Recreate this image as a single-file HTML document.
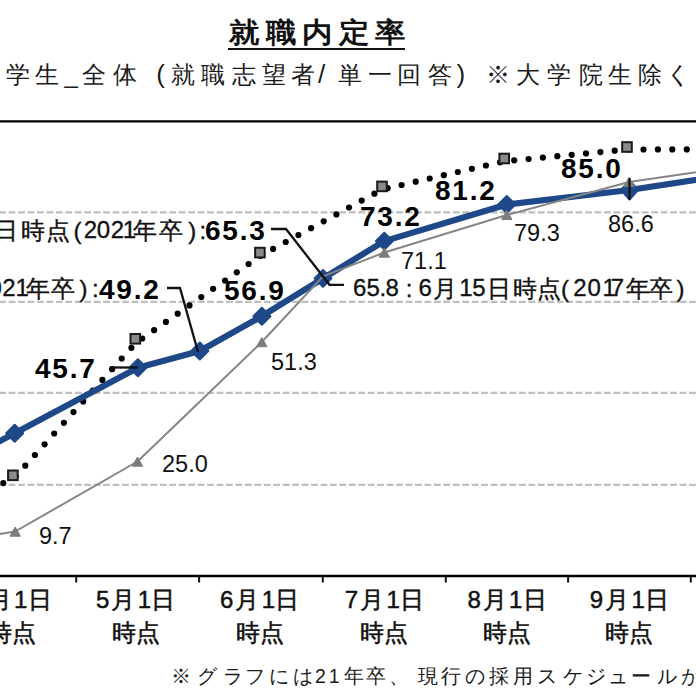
<!DOCTYPE html>
<html lang="ja"><head><meta charset="utf-8">
<style>
html,body{margin:0;padding:0;background:#fff;}
body{width:696px;height:696px;position:relative;overflow:hidden;font-family:"Liberation Sans",sans-serif;color:#111;}
.t{position:absolute;white-space:nowrap;line-height:1;}
.g{position:absolute;white-space:pre;line-height:1;}
#title{left:229px;top:18.5px;font-size:30px;font-weight:bold;letter-spacing:6.5px;transform:scaleY(0.92);transform-origin:0 0;}
#uline{position:absolute;left:228px;top:47.5px;width:177px;height:2.5px;background:#111;}
svg{position:absolute;left:0;top:0;}
.lab{font-size:23.5px;color:#111;}
.bl{font-size:28px;font-weight:bold;color:#000;letter-spacing:1.8px;}
</style></head><body>
<div class="t" id="title">就職内定率</div>
<div id="uline"></div>

<svg width="696" height="696" viewBox="0 0 696 696">
  <line x1="0" y1="121.4" x2="696" y2="121.4" stroke="#000" stroke-width="2.2"/>
  <g stroke="#bfbfbf" stroke-width="2.3" stroke-dasharray="6.8 2.65" stroke-dashoffset="0.8">
    <line x1="0" y1="212.4" x2="696" y2="212.4"/>
    <line x1="0" y1="301.9" x2="696" y2="301.9"/>
    <line x1="0" y1="392.9" x2="696" y2="392.9"/>
    <line x1="0" y1="484.9" x2="696" y2="484.9"/>
  </g>
  <line x1="0" y1="576" x2="696" y2="576" stroke="#000" stroke-width="2.6"/>
  <g stroke="#111" stroke-width="2"><line x1="76.2" y1="575" x2="76.2" y2="582.5"/><line x1="199.1" y1="575" x2="199.1" y2="582.5"/><line x1="322.8" y1="575" x2="322.8" y2="582.5"/><line x1="445.8" y1="575" x2="445.8" y2="582.5"/><line x1="568.1" y1="575" x2="568.1" y2="582.5"/><line x1="690.8" y1="575" x2="690.8" y2="582.5"/></g>
  <!-- dotted series -->
  <g fill="#000"><circle cx="3.3" cy="483.1" r="3.1"/><circle cx="15.7" cy="476.4" r="3.1"/><circle cx="25.3" cy="465.7" r="3.1"/><circle cx="34.9" cy="455.0" r="3.1"/><circle cx="44.6" cy="444.3" r="3.1"/><circle cx="54.2" cy="433.5" r="3.1"/><circle cx="63.9" cy="422.8" r="3.1"/><circle cx="73.5" cy="412.1" r="3.1"/><circle cx="83.2" cy="401.4" r="3.1"/><circle cx="92.8" cy="390.7" r="3.1"/><circle cx="102.4" cy="379.9" r="3.1"/><circle cx="112.1" cy="369.2" r="3.1"/><circle cx="121.7" cy="358.5" r="3.1"/><circle cx="131.4" cy="347.8" r="3.1"/><circle cx="142.3" cy="338.5" r="3.1"/><circle cx="154.1" cy="330.2" r="3.1"/><circle cx="165.9" cy="321.9" r="3.1"/><circle cx="177.7" cy="313.7" r="3.1"/><circle cx="189.5" cy="305.4" r="3.1"/><circle cx="201.3" cy="297.1" r="3.1"/><circle cx="213.1" cy="288.8" r="3.1"/><circle cx="225.0" cy="280.6" r="3.1"/><circle cx="236.8" cy="272.3" r="3.1"/><circle cx="248.6" cy="264.0" r="3.1"/><circle cx="260.4" cy="255.8" r="3.1"/><circle cx="273.1" cy="248.9" r="3.1"/><circle cx="285.7" cy="242.0" r="3.1"/><circle cx="298.4" cy="235.1" r="3.1"/><circle cx="311.1" cy="228.2" r="3.1"/><circle cx="323.7" cy="221.3" r="3.1"/><circle cx="336.4" cy="214.4" r="3.1"/><circle cx="349.0" cy="207.5" r="3.1"/><circle cx="361.7" cy="200.6" r="3.1"/><circle cx="374.4" cy="193.7" r="3.1"/><circle cx="387.6" cy="188.2" r="3.1"/><circle cx="401.6" cy="185.0" r="3.1"/><circle cx="415.7" cy="181.7" r="3.1"/><circle cx="429.7" cy="178.5" r="3.1"/><circle cx="443.8" cy="175.2" r="3.1"/><circle cx="457.8" cy="172.0" r="3.1"/><circle cx="471.9" cy="168.8" r="3.1"/><circle cx="485.9" cy="165.5" r="3.1"/><circle cx="500.0" cy="162.3" r="3.1"/><circle cx="514.2" cy="160.3" r="3.1"/><circle cx="528.6" cy="159.0" r="3.1"/><circle cx="542.9" cy="157.6" r="3.1"/><circle cx="557.3" cy="156.2" r="3.1"/><circle cx="571.7" cy="154.8" r="3.1"/><circle cx="586.0" cy="153.4" r="3.1"/><circle cx="600.4" cy="152.1" r="3.1"/><circle cx="614.7" cy="150.7" r="3.1"/><circle cx="629.1" cy="149.5" r="3.1"/><circle cx="643.5" cy="149.5" r="3.1"/><circle cx="657.9" cy="149.4" r="3.1"/><circle cx="672.3" cy="149.4" r="3.1"/><circle cx="686.8" cy="149.4" r="3.1"/></g>
  <g fill="#8a8a8a" stroke="#1a1a1a" stroke-width="2">
    <rect x="8.1" y="470.5" width="9.6" height="9.6"/>
    <rect x="130.5" y="334" width="9.6" height="9.6"/>
    <rect x="255.1" y="247.8" width="9.6" height="9.6"/>
    <rect x="377.2" y="181.6" width="9.6" height="9.6"/>
    <rect x="499.4" y="153.7" width="9.6" height="9.6"/>
    <rect x="622.2" y="142.2" width="9.6" height="9.6"/>
  </g>
  <!-- blue 2021 series -->
  <polyline fill="none" stroke="#1e4888" stroke-width="6.2" stroke-linejoin="round" points="-109,497.8 14.7,433.3 137.9,367.8 199.8,351 261.9,316.2 323,278.4 384.3,241.1 506.8,204.5 629.5,190 760,170"/>
  <g fill="#1e4888" stroke="#1e4888" stroke-width="2" stroke-linejoin="round">
    <path d="M14.7,424.8 L23.2,433.3 L14.7,441.8 L6.2,433.3 Z"/>
    <path d="M137.9,359.3 L146.4,367.8 L137.9,376.3 L129.4,367.8 Z"/>
    <path d="M199.8,342.5 L208.3,351 L199.8,359.5 L191.3,351 Z"/>
    <path d="M261.9,307.7 L270.4,316.2 L261.9,324.7 L253.4,316.2 Z"/>
    <path d="M323,269.9 L331.5,278.4 L323,286.9 L314.5,278.4 Z"/>
    <path d="M384.3,232.6 L392.8,241.1 L384.3,249.6 L375.8,241.1 Z"/>
    <path d="M506.8,196 L515.3,204.5 L506.8,213 L498.3,204.5 Z"/>
    <path d="M629.5,180.5 L638,190 L629.5,199.5 L621,190 Z"/>
  </g>
  <!-- gray 2017 series -->
  <polyline fill="none" stroke="#858585" stroke-width="2" stroke-linejoin="round" points="-109,552.6 15.2,531.5 137.5,461.5 261.8,342 323,276.4 384.3,252.5 506.8,215 629,182 760,163"/>
  <g fill="#7d7d7d" stroke="#7d7d7d" stroke-width="1" stroke-linejoin="round">
    <path d="M15.2,527 L20.4,536.2 L10,536.2 Z"/>
    <path d="M137.5,457 L142.7,466.2 L132.3,466.2 Z"/>
    <path d="M261.8,337.5 L267,346.7 L256.6,346.7 Z"/>
    <path d="M384.3,248 L389.5,257.2 L379.1,257.2 Z"/>
    <path d="M506.8,210.3 L512,219.5 L501.6,219.5 Z"/>
    <path d="M629,177.5 L634.2,186.7 L623.8,186.7 Z"/>
  </g>
  <!-- leader lines -->
  <g fill="none" stroke="#111" stroke-width="2.3">
    <polyline points="271,229 286,229 329.5,284.8 344,284.8"/>
    <polyline points="167,288 180,288 198,352"/>
    <line x1="110" y1="367.5" x2="137.5" y2="367.5"/>
    <line x1="629.5" y1="178" x2="629.5" y2="200"/>
  </g>
</svg>

<!-- gray labels -->
<div class="t lab" style="left:39px;top:525px">9.7</div>
<div class="t lab" style="left:162px;top:453px">25.0</div>
<div class="t lab" style="left:271px;top:350.5px">51.3</div>
<div class="t lab" style="left:401px;top:250px">71.1</div>
<div class="t lab" style="left:514px;top:222px">79.3</div>
<div class="t lab" style="left:608px;top:213px">86.6</div>

<!-- blue labels -->
<div class="t bl" style="left:35px;top:355px">45.7</div>
<div class="t bl" style="left:224px;top:276.5px">56.9</div>
<div class="t bl" style="left:360px;top:203px">73.2</div>
<div class="t bl" style="left:435px;top:177px">81.2</div>
<div class="t bl" style="left:561px;top:155px">85.0</div>
<div class="t bl" style="left:205px;top:217px">65.3</div>
<div class="t bl" style="left:99px;top:276px">49.2</div>

<span class="g" style="left:-25.5px;top:63.00px;font-size:24px;color:#1a1a1a">大</span>
<span class="g" style="left:5.5px;top:63.00px;font-size:24px;color:#1a1a1a">学</span>
<span class="g" style="left:34.7px;top:63.00px;font-size:24px;color:#1a1a1a">生</span>
<span class="g" style="left:64.4px;top:63.00px;font-size:24px;color:#1a1a1a">_</span>
<span class="g" style="left:81.8px;top:63.00px;font-size:24px;color:#1a1a1a">全</span>
<span class="g" style="left:113px;top:63.00px;font-size:24px;color:#1a1a1a">体</span>
<span class="g" style="left:156.2px;top:61.31px;font-size:26px;color:#1a1a1a">(</span>
<span class="g" style="left:170.8px;top:63.00px;font-size:24px;color:#1a1a1a">就</span>
<span class="g" style="left:200.5px;top:63.00px;font-size:24px;color:#1a1a1a">職</span>
<span class="g" style="left:231.9px;top:63.00px;font-size:24px;color:#1a1a1a">志</span>
<span class="g" style="left:262px;top:63.00px;font-size:24px;color:#1a1a1a">望</span>
<span class="g" style="left:291px;top:63.00px;font-size:24px;color:#1a1a1a">者</span>
<span class="g" style="left:317.9px;top:61.31px;font-size:26px;color:#1a1a1a">/</span>
<span class="g" style="left:337.7px;top:63.00px;font-size:24px;color:#1a1a1a">単</span>
<span class="g" style="left:368px;top:63.00px;font-size:24px;color:#1a1a1a">一</span>
<span class="g" style="left:396.9px;top:63.00px;font-size:24px;color:#1a1a1a">回</span>
<span class="g" style="left:427.6px;top:63.00px;font-size:24px;color:#1a1a1a">答</span>
<span class="g" style="left:456.5px;top:61.31px;font-size:26px;color:#1a1a1a">)</span>
<span class="g" style="left:485.8px;top:63.00px;font-size:24px;color:#1a1a1a">※</span>
<span class="g" style="left:515.8px;top:63.00px;font-size:24px;color:#1a1a1a">大</span>
<span class="g" style="left:547px;top:63.00px;font-size:24px;color:#1a1a1a">学</span>
<span class="g" style="left:578.5px;top:63.00px;font-size:24px;color:#1a1a1a">院</span>
<span class="g" style="left:607.8px;top:63.00px;font-size:24px;color:#1a1a1a">生</span>
<span class="g" style="left:638.1px;top:63.00px;font-size:24px;color:#1a1a1a">除</span>
<span class="g" style="left:666.3px;top:63.00px;font-size:24px;color:#1a1a1a">く</span>
<span class="g" style="left:-6px;top:218.50px;font-size:24px;-webkit-text-stroke:0.35px #111">日</span>
<span class="g" style="left:20.6px;top:218.50px;font-size:24px;-webkit-text-stroke:0.35px #111">時</span>
<span class="g" style="left:46.1px;top:218.50px;font-size:24px;-webkit-text-stroke:0.35px #111">点</span>
<span class="g" style="left:73.4px;top:218.50px;font-size:24px;-webkit-text-stroke:0.35px #111">(</span>
<span class="g" style="left:83.7px;top:217.50px;font-size:24px;-webkit-text-stroke:0.35px #111">2</span>
<span class="g" style="left:96.7px;top:217.50px;font-size:24px;-webkit-text-stroke:0.35px #111">0</span>
<span class="g" style="left:110.8px;top:217.50px;font-size:24px;-webkit-text-stroke:0.35px #111">2</span>
<span class="g" style="left:122.8px;top:217.50px;font-size:24px;-webkit-text-stroke:0.35px #111">1</span>
<span class="g" style="left:133.2px;top:218.50px;font-size:24px;-webkit-text-stroke:0.35px #111">年</span>
<span class="g" style="left:159.3px;top:218.50px;font-size:24px;-webkit-text-stroke:0.35px #111">卒</span>
<span class="g" style="left:188.3px;top:218.50px;font-size:24px;-webkit-text-stroke:0.35px #111">)</span>
<span class="g" style="left:199.4px;top:218.50px;font-size:24px;-webkit-text-stroke:0.35px #111">:</span>
<span class="g" style="left:-11.5px;top:275.50px;font-size:24px;-webkit-text-stroke:0.35px #111">0</span>
<span class="g" style="left:2.2px;top:275.50px;font-size:24px;-webkit-text-stroke:0.35px #111">2</span>
<span class="g" style="left:15.4px;top:275.50px;font-size:24px;-webkit-text-stroke:0.35px #111">1</span>
<span class="g" style="left:25.9px;top:276.50px;font-size:24px;-webkit-text-stroke:0.35px #111">年</span>
<span class="g" style="left:51.2px;top:276.50px;font-size:24px;-webkit-text-stroke:0.35px #111">卒</span>
<span class="g" style="left:79.6px;top:276.50px;font-size:24px;-webkit-text-stroke:0.35px #111">)</span>
<span class="g" style="left:92px;top:276.50px;font-size:24px;-webkit-text-stroke:0.35px #111">:</span>
<span class="g" style="left:353px;top:275.50px;font-size:24px;-webkit-text-stroke:0.35px #111">6</span>
<span class="g" style="left:366.4px;top:275.50px;font-size:24px;-webkit-text-stroke:0.35px #111">5</span>
<span class="g" style="left:379.6px;top:275.50px;font-size:24px;-webkit-text-stroke:0.35px #111">.</span>
<span class="g" style="left:385.4px;top:275.50px;font-size:24px;-webkit-text-stroke:0.35px #111">8</span>
<span class="g" style="left:405.7px;top:276.50px;font-size:24px;-webkit-text-stroke:0.35px #111">:</span>
<span class="g" style="left:418.5px;top:275.50px;font-size:24px;-webkit-text-stroke:0.35px #111">6</span>
<span class="g" style="left:433.3px;top:276.50px;font-size:24px;-webkit-text-stroke:0.35px #111">月</span>
<span class="g" style="left:459.3px;top:275.50px;font-size:24px;-webkit-text-stroke:0.35px #111">1</span>
<span class="g" style="left:472.2px;top:275.50px;font-size:24px;-webkit-text-stroke:0.35px #111">5</span>
<span class="g" style="left:486.6px;top:276.50px;font-size:24px;-webkit-text-stroke:0.35px #111">日</span>
<span class="g" style="left:513.3px;top:276.50px;font-size:24px;-webkit-text-stroke:0.35px #111">時</span>
<span class="g" style="left:536.8px;top:276.50px;font-size:24px;-webkit-text-stroke:0.35px #111">点</span>
<span class="g" style="left:561.1px;top:276.50px;font-size:24px;-webkit-text-stroke:0.35px #111">(</span>
<span class="g" style="left:573.2px;top:275.50px;font-size:24px;-webkit-text-stroke:0.35px #111">2</span>
<span class="g" style="left:587.4px;top:275.50px;font-size:24px;-webkit-text-stroke:0.35px #111">0</span>
<span class="g" style="left:602.6px;top:275.50px;font-size:24px;-webkit-text-stroke:0.35px #111">1</span>
<span class="g" style="left:610.7px;top:275.50px;font-size:24px;-webkit-text-stroke:0.35px #111">7</span>
<span class="g" style="left:625.9px;top:276.50px;font-size:24px;-webkit-text-stroke:0.35px #111">年</span>
<span class="g" style="left:649.2px;top:276.50px;font-size:24px;-webkit-text-stroke:0.35px #111">卒</span>
<span class="g" style="left:676.6px;top:276.50px;font-size:24px;-webkit-text-stroke:0.35px #111">)</span>
<span class="g" style="left:170.7px;top:667.00px;font-size:19.5px;color:#1a1a1a">※</span>
<span class="g" style="left:196.5px;top:667.00px;font-size:19.5px;color:#1a1a1a">グ</span>
<span class="g" style="left:223.3px;top:667.00px;font-size:19.5px;color:#1a1a1a">ラ</span>
<span class="g" style="left:244.9px;top:667.00px;font-size:19.5px;color:#1a1a1a">フ</span>
<span class="g" style="left:269px;top:667.00px;font-size:19.5px;color:#1a1a1a">に</span>
<span class="g" style="left:292.6px;top:667.00px;font-size:19.5px;color:#1a1a1a">は</span>
<span class="g" style="left:315px;top:667.00px;font-size:19.5px;color:#1a1a1a">2</span>
<span class="g" style="left:328.7px;top:667.00px;font-size:19.5px;color:#1a1a1a">1</span>
<span class="g" style="left:343.5px;top:667.00px;font-size:19.5px;color:#1a1a1a">年</span>
<span class="g" style="left:365.9px;top:667.00px;font-size:19.5px;color:#1a1a1a">卒</span>
<span class="g" style="left:388.9px;top:667.00px;font-size:19.5px;color:#1a1a1a">、</span>
<span class="g" style="left:417.9px;top:667.00px;font-size:19.5px;color:#1a1a1a">現</span>
<span class="g" style="left:440.6px;top:667.00px;font-size:19.5px;color:#1a1a1a">行</span>
<span class="g" style="left:465.4px;top:667.00px;font-size:19.5px;color:#1a1a1a">の</span>
<span class="g" style="left:489.1px;top:667.00px;font-size:19.5px;color:#1a1a1a">採</span>
<span class="g" style="left:512.8px;top:667.00px;font-size:19.5px;color:#1a1a1a">用</span>
<span class="g" style="left:536.6px;top:667.00px;font-size:19.5px;color:#1a1a1a">ス</span>
<span class="g" style="left:563.3px;top:667.00px;font-size:19.5px;color:#1a1a1a">ケ</span>
<span class="g" style="left:586.1px;top:667.00px;font-size:19.5px;color:#1a1a1a">ジ</span>
<span class="g" style="left:607.7px;top:667.00px;font-size:19.5px;color:#1a1a1a">ュ</span>
<span class="g" style="left:631.3px;top:667.00px;font-size:19.5px;color:#1a1a1a">ー</span>
<span class="g" style="left:657px;top:667.00px;font-size:19.5px;color:#1a1a1a">ル</span>
<span class="g" style="left:680.8px;top:667.00px;font-size:19.5px;color:#1a1a1a">が</span>
<span class="g" style="left:-27.6px;top:588.00px;font-size:24px;-webkit-text-stroke:0.5px #111">4</span>
<span class="g" style="left:-12.4px;top:588.00px;font-size:24px;-webkit-text-stroke:0.5px #111">月</span>
<span class="g" style="left:14.1px;top:588.00px;font-size:24px;-webkit-text-stroke:0.5px #111">1</span>
<span class="g" style="left:27.6px;top:588.00px;font-size:24px;-webkit-text-stroke:0.5px #111">日</span>
<span class="g" style="left:-12.1px;top:621.00px;font-size:24px;-webkit-text-stroke:0.5px #111">時</span>
<span class="g" style="left:12.1px;top:621.00px;font-size:24px;-webkit-text-stroke:0.5px #111">点</span>
<span class="g" style="left:96.1px;top:588.00px;font-size:24px;-webkit-text-stroke:0.5px #111">5</span>
<span class="g" style="left:111.3px;top:588.00px;font-size:24px;-webkit-text-stroke:0.5px #111">月</span>
<span class="g" style="left:137.8px;top:588.00px;font-size:24px;-webkit-text-stroke:0.5px #111">1</span>
<span class="g" style="left:151.3px;top:588.00px;font-size:24px;-webkit-text-stroke:0.5px #111">日</span>
<span class="g" style="left:111.6px;top:621.00px;font-size:24px;-webkit-text-stroke:0.5px #111">時</span>
<span class="g" style="left:135.8px;top:621.00px;font-size:24px;-webkit-text-stroke:0.5px #111">点</span>
<span class="g" style="left:220.0px;top:588.00px;font-size:24px;-webkit-text-stroke:0.5px #111">6</span>
<span class="g" style="left:235.2px;top:588.00px;font-size:24px;-webkit-text-stroke:0.5px #111">月</span>
<span class="g" style="left:261.7px;top:588.00px;font-size:24px;-webkit-text-stroke:0.5px #111">1</span>
<span class="g" style="left:275.2px;top:588.00px;font-size:24px;-webkit-text-stroke:0.5px #111">日</span>
<span class="g" style="left:235.5px;top:621.00px;font-size:24px;-webkit-text-stroke:0.5px #111">時</span>
<span class="g" style="left:259.7px;top:621.00px;font-size:24px;-webkit-text-stroke:0.5px #111">点</span>
<span class="g" style="left:344.7px;top:588.00px;font-size:24px;-webkit-text-stroke:0.5px #111">7</span>
<span class="g" style="left:359.9px;top:588.00px;font-size:24px;-webkit-text-stroke:0.5px #111">月</span>
<span class="g" style="left:386.4px;top:588.00px;font-size:24px;-webkit-text-stroke:0.5px #111">1</span>
<span class="g" style="left:399.9px;top:588.00px;font-size:24px;-webkit-text-stroke:0.5px #111">日</span>
<span class="g" style="left:360.2px;top:621.00px;font-size:24px;-webkit-text-stroke:0.5px #111">時</span>
<span class="g" style="left:384.4px;top:621.00px;font-size:24px;-webkit-text-stroke:0.5px #111">点</span>
<span class="g" style="left:467.4px;top:588.00px;font-size:24px;-webkit-text-stroke:0.5px #111">8</span>
<span class="g" style="left:482.6px;top:588.00px;font-size:24px;-webkit-text-stroke:0.5px #111">月</span>
<span class="g" style="left:509.1px;top:588.00px;font-size:24px;-webkit-text-stroke:0.5px #111">1</span>
<span class="g" style="left:522.6px;top:588.00px;font-size:24px;-webkit-text-stroke:0.5px #111">日</span>
<span class="g" style="left:482.9px;top:621.00px;font-size:24px;-webkit-text-stroke:0.5px #111">時</span>
<span class="g" style="left:507.1px;top:621.00px;font-size:24px;-webkit-text-stroke:0.5px #111">点</span>
<span class="g" style="left:589.7px;top:588.00px;font-size:24px;-webkit-text-stroke:0.5px #111">9</span>
<span class="g" style="left:604.9px;top:588.00px;font-size:24px;-webkit-text-stroke:0.5px #111">月</span>
<span class="g" style="left:631.4px;top:588.00px;font-size:24px;-webkit-text-stroke:0.5px #111">1</span>
<span class="g" style="left:644.9px;top:588.00px;font-size:24px;-webkit-text-stroke:0.5px #111">日</span>
<span class="g" style="left:605.2px;top:621.00px;font-size:24px;-webkit-text-stroke:0.5px #111">時</span>
<span class="g" style="left:629.4px;top:621.00px;font-size:24px;-webkit-text-stroke:0.5px #111">点</span>
</body></html>
